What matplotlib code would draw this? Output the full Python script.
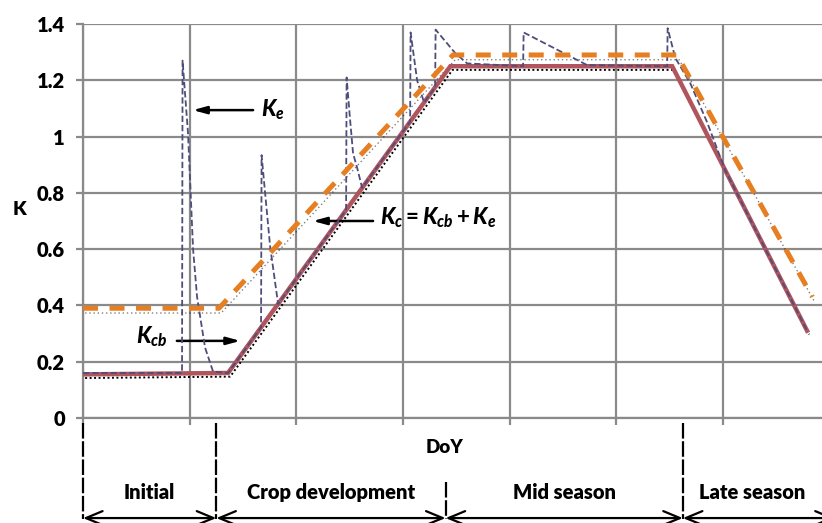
import matplotlib
matplotlib.use("Agg")
import matplotlib.pyplot as plt
import numpy as np
from matplotlib.ticker import FuncFormatter, MultipleLocator

plt.rcParams['font.family'] = ['Lato', 'DejaVu Sans']
plt.rcParams['mathtext.fontset'] = 'custom'
plt.rcParams['mathtext.it'] = 'Lato:italic:black'
plt.rcParams['mathtext.rm'] = 'Lato:bold'

# basal crop coefficient Kcb (day, value)
kcb_day = [0, 27.2, 68.9, 110.5, 135.8]
kcb_val = [0.155, 0.16, 1.25, 1.25, 0.31]

# mean crop coefficient Kc (orange dashed)
kc_day = [0, 25.5, 69.4, 111.4, 136.8]
kc_val = [0.39, 0.39, 1.29, 1.29, 0.43]

# daily Kc = Kcb + Ke with wetting events
ke_day = [0, 18.57, 18.67, 19.7, 20.64, 21.39, 22.89, 24.39, 27.2,
          33.39, 33.49, 34.15, 35.09, 36.59,
          49.34, 49.44, 50.09, 50.65, 51.4, 52.34,
          61.35, 61.44, 62.66, 63.97,
          66.04, 66.13, 69.79, 72.04,
          82.54, 82.64, 94.55,
          109.56, 109.65, 111.07, 113.88, 117.07, 120.45, 135.8]
ke_val = [0.16, 0.16, 1.27, 1.01, 0.6, 0.43, 0.25, 0.165, 0.16,
          0.322, 0.934, 0.80, 0.61, 0.405,
          0.739, 1.21, 1.06, 0.94, 0.89, 0.818,
          1.053, 1.37, 1.2, 1.121,
          1.175, 1.38, 1.297, 1.26,
          1.25, 1.37, 1.254,
          1.25, 1.385, 1.28, 1.19, 1.05, 0.88, 0.31]

# growth stages
stage_edges = [0, 25, 68, 112.5, 141]
stage_names = ['Initial', 'Crop development', 'Mid season', 'Late season']

W = 'heavy'

fig = plt.figure(figsize=(8.22, 5.23), dpi=100)
ax = fig.add_axes([0.101, 0.2008, 0.899, 0.7533])

ax.set_xlim(0, 138.6)
ax.set_ylim(0, 1.4)
ax.xaxis.set_major_locator(MultipleLocator(20))
ax.yaxis.set_major_locator(MultipleLocator(0.2))
ax.yaxis.set_major_formatter(FuncFormatter(lambda v, p: '%g' % round(v, 1)))
ax.set_xticklabels([])
ax.grid(True, color='#8a8a8a', linewidth=1.6, zorder=0)
ax.set_axisbelow(True)
for s in ['top', 'right']:
    ax.spines[s].set_visible(False)
for s in ['left', 'bottom']:
    ax.spines[s].set_color('#8a8a8a')
    ax.spines[s].set_linewidth(1.6)
ax.tick_params(axis='both', colors='#8a8a8a', width=1.6, length=5)
ax.tick_params(axis='y', labelcolor='black', labelsize=14.5, pad=8)
for lab in ax.get_yticklabels():
    lab.set_fontweight(W)

# shadows
kcb_d = np.array(kcb_day); kc_d = np.array(kc_day)
ax.plot(kcb_d + 0.4, np.array(kcb_val) - 0.013, color='black', lw=1.4,
        ls=(0, (1, 1.3)), zorder=2)
ax.plot(kc_d + 0.4, np.array(kc_val) - 0.017, color='black', lw=1.0,
        ls=(0, (1, 2)), alpha=0.5, zorder=2)

ax.plot(kcb_day, kcb_val, color='#b0545e', lw=3.2, zorder=3,
        solid_joinstyle='miter')
ax.plot(ke_day, ke_val, color='#4f4d7a', lw=1.3, ls=(0, (3.5, 1.6)), zorder=4)
ax.plot(kc_day, kc_val, color='#e67e22', lw=3.6, ls=(0, (3, 2.3)), zorder=5)

# labels with arrows
arrow = dict(arrowstyle='-|>,head_length=0.8,head_width=0.22', color='black',
             lw=1.8, shrinkA=0, shrinkB=0)
ax.annotate('', xy=(20.6, 1.094), xytext=(31.9, 1.094), arrowprops=arrow)
ax.text(33.4, 1.094, r'$K_e$', fontsize=16, va='center', ha='left')
ax.annotate('', xy=(29.5, 0.274), xytext=(17.6, 0.274), arrowprops=arrow)
ax.text(9.9, 0.29, r'$K_{cb}$', fontsize=16, va='center', ha='left')
ax.annotate('', xy=(43.1, 0.70), xytext=(54.4, 0.70), arrowprops=arrow)
ax.text(55.7, 0.71, r'$K_c = K_{cb} + K_e$', fontsize=16, va='center', ha='left')

ax.set_ylabel('K', rotation=0, fontsize=14, fontweight=W, va='center')
ax.yaxis.set_label_coords(-0.086, 0.53)

# stage bar below the axis
tr = ax.get_xaxis_transform()
ax.text(67.9, -0.074, 'DoY', transform=tr, ha='center', va='center',
        fontsize=13.5, fontweight=W)
for i, name in enumerate(stage_names):
    a, b = stage_edges[i], stage_edges[i + 1]
    ax.annotate('', xy=(a, -0.254), xytext=(b, -0.254), xycoords=tr,
                textcoords=tr, annotation_clip=False,
                arrowprops=dict(arrowstyle='<->,head_length=1.2,head_width=0.5',
                                color='black', lw=1.6, shrinkA=0, shrinkB=0,
                                mutation_scale=10))
    mid = (a + min(b, 138.6)) / 2
    ax.text(mid, -0.19, name, transform=tr, ha='center', va='center',
            fontsize=14.5, fontweight=W)
for i, edge in enumerate(stage_edges[:-1]):
    top = -0.162 if i == 2 else -0.0127
    ax.plot([edge, edge], [top, -0.256], transform=tr, color='black', lw=1.6,
            ls=(0, (7, 1.2)), clip_on=False)

fig.savefig('out.png', dpi=100)
